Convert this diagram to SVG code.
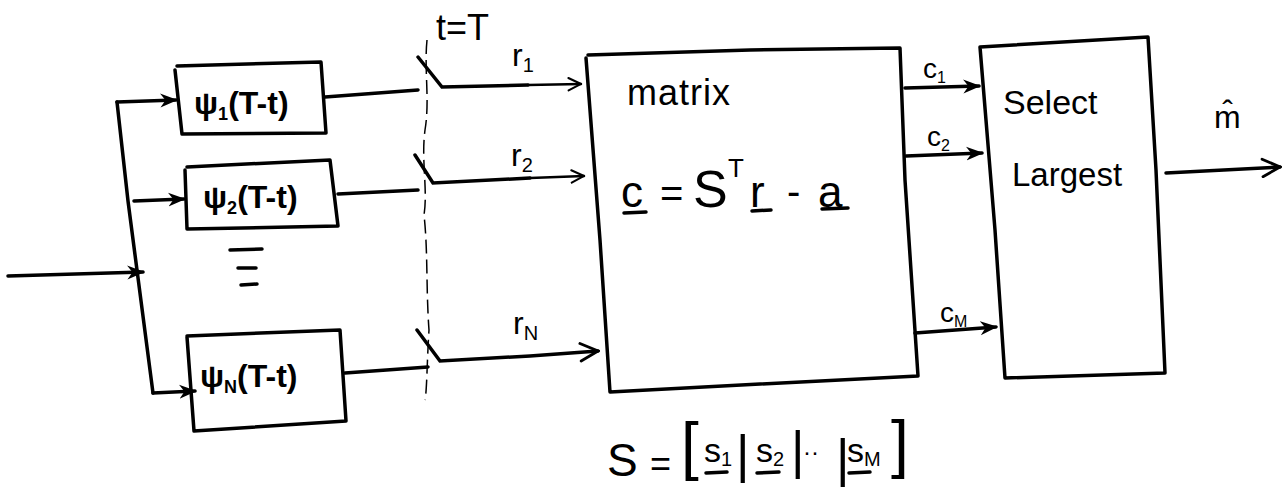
<svg xmlns="http://www.w3.org/2000/svg" width="1286" height="490" viewBox="0 0 1286 490">
<style>
.box{fill:none;stroke:#000;stroke-width:3.5;stroke-linejoin:round;stroke-linecap:round}
.ln{fill:none;stroke:#000;stroke-width:3.5;stroke-linecap:round}
.thin{fill:none;stroke:#000;stroke-width:2.5;stroke-linecap:round}
.dash{fill:none;stroke:#000;stroke-width:1.5;stroke-dasharray:14 6}
.t{font-family:"Liberation Sans",Arial,sans-serif;fill:#000}
.b{font-weight:bold}
</style>
<defs>
<marker id="fa" viewBox="0 0 10 10" refX="9" refY="5" markerWidth="5" markerHeight="5" orient="auto" markerUnits="strokeWidth">
<path d="M0,1 L10,5 L0,9 L3,5 Z" fill="#000"/>
</marker>
<marker id="oa" viewBox="0 0 12 12" refX="11" refY="6" markerWidth="6" markerHeight="6" orient="auto" markerUnits="strokeWidth">
<path d="M1,1 L11,6 L1,11" fill="none" stroke="#000" stroke-width="1.6" stroke-linecap="round"/>
</marker>
</defs>
<rect width="1286" height="490" fill="#fff"/>

<g id="connectors">
<path class="ln" d="M8,276 L143,272" marker-end="url(#fa)"/>
<path class="ln" d="M117,102 L128,201 L153,393"/>
<path class="ln" d="M117,102 L176,100" marker-end="url(#fa)"/>
<path class="ln" d="M134,201 L184,199" marker-end="url(#fa)"/>
<path class="ln" d="M153,393 L195,391" marker-end="url(#fa)"/>
<path class="ln" d="M325,97 L418,90"/>
<path class="ln" d="M338,194 L418,190"/>
<path class="ln" d="M345,373 L428,367"/>
<path class="dash" d="M427,40 C424,70 430,100 425,130 C421,160 428,190 424,215 C428,250 426,290 429,330 C427,360 427,390 425,400"/>
<path class="ln" d="M418,57 L442,87 L528,85"/>
<path class="thin" d="M528,85 L581,84" marker-end="url(#oa)"/>
<path class="ln" d="M415,155 L433,183 L530,178"/>
<path class="thin" d="M530,178 L584,176" marker-end="url(#oa)"/>
<path class="ln" d="M417,330 L440,361 L530,356 L598,351" marker-end="url(#oa)"/>
<path class="ln" d="M905,88 L979,86" marker-end="url(#fa)"/>
<path class="ln" d="M906,156 L982,153" marker-end="url(#fa)"/>
<path class="ln" d="M915,333 L996,327" marker-end="url(#fa)"/>
<path class="ln" d="M1166,173 L1280,167" marker-end="url(#oa)"/>
</g>

<g id="psi1">
<path class="box" d="M175,70 L182,134 L326,133 L321,62 L177,66"/>
<text class="t b" x="194" y="114" font-size="32">ψ<tspan font-size="18" dy="6">1</tspan><tspan dy="-6">(T-t)</tspan></text>
</g>
<g id="psi2">
<path class="box" d="M185,170 L187,229 L338,226 L330,160 L187,167"/>
<text class="t b" x="203" y="208" font-size="32">ψ<tspan font-size="18" dy="6">2</tspan><tspan dy="-6">(T-t)</tspan></text>
</g>
<g id="dots">
<path class="ln" d="M230,250 L262,249 M238,268 L256,268 M241,285 L257,284"/>
</g>
<g id="psiN">
<path class="box" d="M187,337 L194,431 L346,421 L340,330 L187,336"/>
<text class="t b" x="200" y="387" font-size="32">ψ<tspan font-size="18" dy="6">N</tspan><tspan dy="-6">(T-t)</tspan></text>
</g>

<g id="switch">
<text class="t" x="436" y="40" font-size="36">t=T</text>
<text class="t" x="512" y="66" font-size="32">r<tspan font-size="20" dy="6">1</tspan></text>
<text class="t" x="511" y="166" font-size="32">r<tspan font-size="20" dy="6">2</tspan></text>
<text class="t" x="513" y="334" font-size="32">r<tspan font-size="20" dy="6">N</tspan></text>
</g>

<g id="matrix">
<path class="box" d="M588,55 L750,50 L900,48 L905,180 L918,376 L760,384 L610,392 L600,240 L586,58"/>
<text class="t" x="627" y="105" font-size="36" letter-spacing="1">matrix</text>
<text class="t" x="621" y="207" font-size="44">c</text>
<text class="t" x="660" y="207" font-size="40">=</text>
<text class="t" x="693" y="207" font-size="52">S</text>
<text class="t" x="728" y="177" font-size="26">T</text>
<text class="t" x="750" y="207" font-size="44">r</text>
<text class="t" x="787" y="205" font-size="40">-</text>
<text class="t" x="818" y="207" font-size="44">a</text>
<path class="ln" d="M624,213 L646,212 M752,211 L771,210 M822,209 L848,208"/>
<text class="t" x="607" y="476" font-size="46">S</text>
<text class="t" x="650" y="476" font-size="36">=</text>
<text class="t" x="681" y="468" font-size="64">[</text>
<text class="t" x="704" y="462" font-size="34">s<tspan font-size="20" dy="4">1</tspan></text>
<path class="ln" d="M706,473 L727,472"/>
<text class="t" x="736" y="472" font-size="52">|</text>
<text class="t" x="756" y="462" font-size="34">s<tspan font-size="20" dy="4">2</tspan></text>
<path class="ln" d="M757,473 L779,472"/>
<text class="t" x="791" y="468" font-size="52">|</text>
<text class="t" x="803" y="460" font-size="24">··</text>
<text class="t" x="836" y="476" font-size="52">|</text>
<text class="t" x="847" y="462" font-size="34">s<tspan font-size="20" dy="4">M</tspan></text>
<path class="ln" d="M849,473 L870,472"/>
<text class="t" x="891" y="466" font-size="64">]</text>
</g>

<g id="select">
<path class="box" d="M980,47 L1148,37 L1156,170 L1165,373 L1005,378 L995,230 L980,47"/>
<text class="t" x="1003" y="114" font-size="34">Select</text>
<text class="t" x="1012" y="186" font-size="33">Largest</text>
<text class="t" x="923" y="78" font-size="28">c<tspan font-size="16" dy="5">1</tspan></text>
<text class="t" x="927" y="146" font-size="28">c<tspan font-size="16" dy="5">2</tspan></text>
<text class="t" x="940" y="322" font-size="28">c<tspan font-size="16" dy="5">M</tspan></text>
<text class="t" x="1214" y="128" font-size="32">m̂</text>
</g>
</svg>
